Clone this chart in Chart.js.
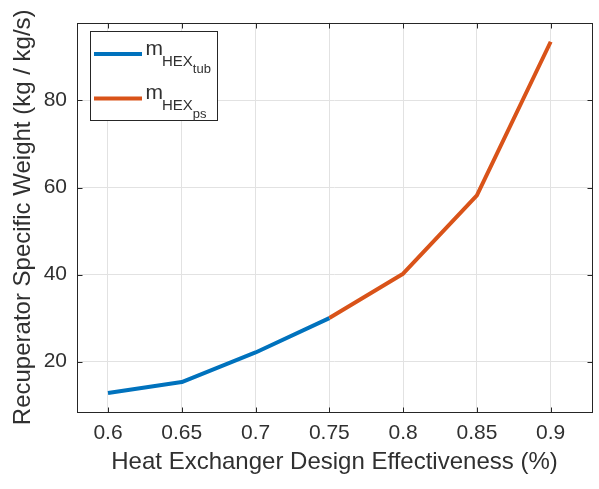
<!DOCTYPE html>
<html>
<head>
<meta charset="utf-8">
<script src="https://cdn.jsdelivr.net/npm/chart.js@4"></script>
<style>
  html, body { margin: 0; padding: 0; background: #fff; }
  #c { display: block; }
</style>
</head>
<body>
<canvas id="c" width="599" height="489" style="width:599px;height:489px"></canvas>
<script>
// Design effectiveness values and recuperator specific weight (kg / kg/s)
const effectivenessTub = [0.6, 0.65, 0.7, 0.75];
const weightTub = [12.8, 15.3, 22.1, 30.0];
const effectivenessPs = [0.75, 0.8, 0.85, 0.9];
const weightPs = [30.0, 40.2, 58.2, 93.5];

const xTicks = [0.6, 0.65, 0.7, 0.75, 0.8, 0.85, 0.9];
const yTicks = [20, 40, 60, 80];

const seriesNames = ['tub', 'ps'];
const seriesColors = ['#0072BD', '#D95319'];

const FONT = "'Liberation Sans', Arial, Helvetica, sans-serif";
const INK = '#303030';

function toPoints(xs, ys) { return xs.map((x, i) => ({ x: x, y: ys[i] })); }

// Box around the axes with inward tick marks, plus the legend
const framePlugin = {
  id: 'frame',
  afterDatasetsDraw(chart) {
    const { ctx, chartArea: a, scales } = chart;
    ctx.save();
    ctx.strokeStyle = '#262626';
    ctx.lineWidth = 1;
    const L = Math.round(a.left) + 0.5, R = Math.round(a.right) + 0.5;
    const T = Math.round(a.top) + 0.5, B = Math.round(a.bottom) + 0.5;
    ctx.strokeRect(L, T, R - L, B - T);
    ctx.beginPath();
    const tl = 5;
    xTicks.forEach(v => {
      const px = Math.round(scales.x.getPixelForValue(v)) + 0.5;
      ctx.moveTo(px, B); ctx.lineTo(px, B - tl);
      ctx.moveTo(px, T); ctx.lineTo(px, T + tl);
    });
    yTicks.forEach(v => {
      const py = Math.round(scales.y.getPixelForValue(v)) + 0.5;
      ctx.moveTo(L, py); ctx.lineTo(L + tl, py);
      ctx.moveTo(R, py); ctx.lineTo(R - tl, py);
    });
    ctx.stroke();

    // Legend box with sub-subscripted labels
    const bx = 90.5, by = 31.5, bw = 127, bh = 89;
    ctx.fillStyle = '#fff';
    ctx.fillRect(bx, by, bw, bh);
    ctx.strokeStyle = '#262626';
    ctx.strokeRect(bx, by, bw, bh);
    const rows = [54, 98.5];
    rows.forEach((yy, i) => {
      ctx.strokeStyle = seriesColors[i];
      ctx.lineWidth = 4;
      ctx.beginPath();
      ctx.moveTo(94, yy);
      ctx.lineTo(142, yy);
      ctx.stroke();

      ctx.fillStyle = INK;
      ctx.textBaseline = 'alphabetic';
      ctx.textAlign = 'left';
      let x = 145.5;
      const base = yy + 0.5;
      ctx.font = '21px ' + FONT;
      ctx.fillText('m', x, base);
      x += ctx.measureText('m').width - 1;
      ctx.font = '15px ' + FONT;
      ctx.fillText('HEX', x, base + 11);
      x += ctx.measureText('HEX').width;
      ctx.font = '13px ' + FONT;
      ctx.fillText(seriesNames[i], x, base + 18.5);
    });
    ctx.restore();
  }
};

new Chart(document.getElementById('c'), {
  type: 'line',
  data: {
    datasets: [
      {
        label: 'tub',
        data: toPoints(effectivenessTub, weightTub),
        borderColor: seriesColors[0],
        backgroundColor: seriesColors[0],
        borderWidth: 4,
        pointRadius: 0,
        tension: 0,
        borderJoinStyle: 'round'
      },
      {
        label: 'ps',
        data: toPoints(effectivenessPs, weightPs),
        borderColor: seriesColors[1],
        backgroundColor: seriesColors[1],
        borderWidth: 4,
        pointRadius: 0,
        tension: 0,
        borderJoinStyle: 'round'
      }
    ]
  },
  options: {
    responsive: false,
    devicePixelRatio: 1,
    animation: false,
    layout: { padding: { top: 18, right: 7, left: 0, bottom: 0 } },
    plugins: { legend: { display: false }, tooltip: { enabled: false } },
    scales: {
      x: {
        type: 'linear',
        min: 0.579,
        max: 0.928,
        afterBuildTicks(s) { s.ticks = xTicks.map(v => ({ value: v })); },
        afterFit(s) { s.height = 77; },
        ticks: {
          callback: v => String(v),
          font: { family: FONT, size: 21 },
          color: INK,
          padding: 9,
          maxRotation: 0,
          autoSkip: false
        },
        grid: { color: '#e2e2e2', drawTicks: false, lineWidth: 1 },
        border: { display: false },
        title: {
          display: true,
          text: 'Heat Exchanger Design Effectiveness (%)',
          font: { family: FONT, size: 24 },
          color: INK,
          padding: { top: 0, bottom: 12 }
        }
      },
      y: {
        type: 'linear',
        min: 8.42,
        max: 97.9,
        afterBuildTicks(s) { s.ticks = yTicks.map(v => ({ value: v })); },
        afterFit(s) { s.width = 77; },
        ticks: {
          callback: v => String(v),
          font: { family: FONT, size: 21 },
          color: INK,
          padding: 10
        },
        grid: { color: '#e2e2e2', drawTicks: false, lineWidth: 1 },
        border: { display: false },
        title: {
          display: true,
          text: 'Recuperator Specific Weight (kg / kg/s)',
          font: { family: FONT, size: 24 },
          color: INK,
          padding: { top: 9, bottom: 0 }
        }
      }
    }
  },
  plugins: [framePlugin]
});
</script>
</body>
</html>
